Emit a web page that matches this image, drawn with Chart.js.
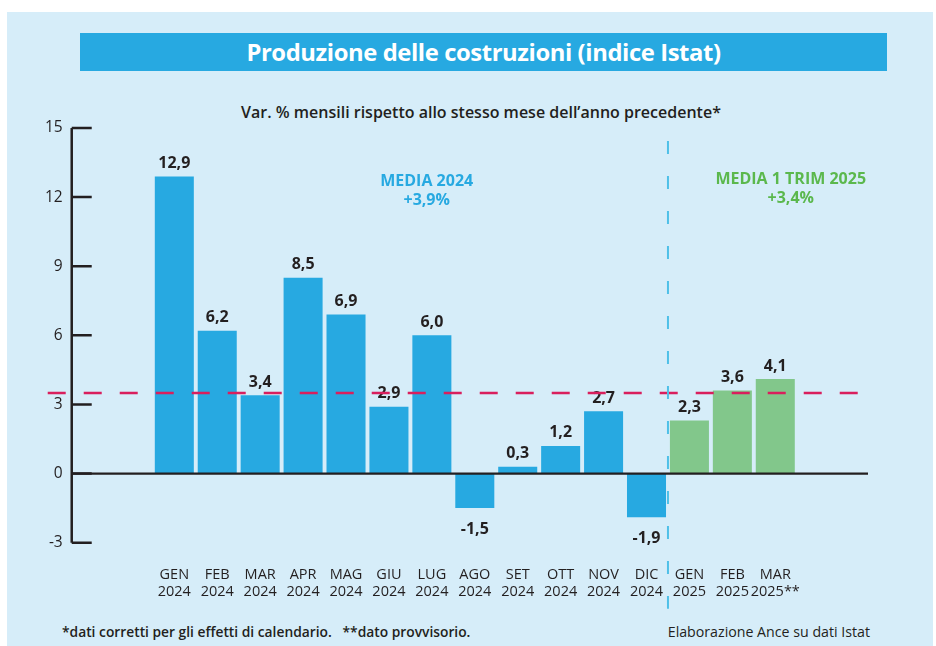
<!DOCTYPE html>
<html lang="it">
<head>
<meta charset="utf-8">
<title>Produzione delle costruzioni</title>
<script src="https://cdn.jsdelivr.net/npm/chart.js@4.4.1/dist/chart.umd.min.js"></script>
<style>
  html, body { margin: 0; padding: 0; background: #fff; }
  body { width: 936px; height: 646px; position: relative; overflow: hidden; font-family: "Open Sans", sans-serif; }
  .pannello { position: absolute; left: 7px; top: 12px; width: 926px; height: 634px; background: #d6edf9; }
  .banner { position: absolute; left: 80px; top: 33px; width: 807px; height: 38px; background: #27a9e1;
    color: #fff; font-weight: 700; font-size: 23.8px; line-height: 38px; text-align: center; letter-spacing: -0.4px; }
  .sottotitolo { position: absolute; left: 0; width: 962px; top: 101px; text-align: center;
    font-size: 16px; font-weight: 600; color: #231f20; }
  .nota { position: absolute; top: 622px; font-size: 13.8px; font-weight: 600; color: #231f20; white-space: pre; }
  .nota.sx { left: 62px; }
  .nota.dx { right: 66px; font-size: 14.2px; font-weight: 500; }
  #grafico-box { position: absolute; left: 0; top: 0; width: 936px; height: 646px; }
</style>
</head>
<body>
<div class="pannello"></div>
<div class="banner">Produzione delle costruzioni (indice Istat)</div>
<div class="sottotitolo">Var. % mensili rispetto allo stesso mese dell’anno precedente*</div>
<div class="nota sx">*dati corretti per gli effetti di calendario.   **dato provvisorio.</div>
<div class="nota dx">Elaborazione Ance su dati Istat</div>
<div id="grafico-box"><canvas id="grafico"></canvas></div>

<script>
// Dati
const mesi = ["GEN", "FEB", "MAR", "APR", "MAG", "GIU", "LUG", "AGO", "SET", "OTT", "NOV", "DIC", "GEN", "FEB", "MAR"];
const anni = ["2024", "2024", "2024", "2024", "2024", "2024", "2024", "2024", "2024", "2024", "2024", "2024", "2025", "2025", "2025**"];
const valori2024 = [12.9, 6.2, 3.4, 8.5, 6.9, 2.9, 6.0, -1.5, 0.3, 1.2, 2.7, -1.9];
const valori2025 = [2.3, 3.6, 4.1];
const tickY = [-3, 0, 3, 6, 9, 12, 15];
const lineaRiferimento = 3.5;
const media2024 = ["MEDIA 2024", "+3,9%"];
const media2025 = ["MEDIA 1 TRIM 2025", "+3,4%"];

document.addEventListener("DOMContentLoaded", () => {
  Chart.defaults.font.family = "'Open Sans', sans-serif";
  Chart.defaults.color = "#231f20";

  const punti2024 = valori2024.map((v, i) => ({ x: i, y: v }));
  const punti2025 = valori2025.map((v, i) => ({ x: valori2024.length + i, y: v }));
  const formatta = (v) => v.toFixed(1).replace(".", ",");

  // Assi, linee tratteggiate, etichette e medie
  const decorazioni = {
    id: "decorazioni",
    afterDatasetsDraw(chart) {
      const { ctx, chartArea, scales } = chart;
      const x = scales.x, y = scales.y;
      ctx.save();

      // etichette dei valori
      ctx.font = "700 16px 'Open Sans'";
      ctx.fillStyle = "#231f20";
      ctx.textAlign = "center";
      chart.data.datasets.forEach((ds, di) => {
        chart.getDatasetMeta(di).data.forEach((bar, i) => {
          const v = ds.data[i].y;
          if (v >= 0) {
            ctx.textBaseline = "bottom";
            ctx.fillText(formatta(v), bar.x, bar.y - 5);
          } else {
            ctx.textBaseline = "top";
            ctx.fillText(formatta(v), bar.x, bar.y + 13);
          }
        });
      });

      // asse y con tacche verso l'interno
      ctx.strokeStyle = "#231f20";
      ctx.lineWidth = 2.5;
      ctx.beginPath();
      ctx.moveTo(chartArea.left, y.getPixelForValue(tickY[tickY.length - 1]));
      ctx.lineTo(chartArea.left, y.getPixelForValue(tickY[0]));
      tickY.forEach((t) => {
        const py = y.getPixelForValue(t);
        ctx.moveTo(chartArea.left, py);
        ctx.lineTo(chartArea.left + 20, py);
      });
      ctx.stroke();

      // linea dello zero
      ctx.lineWidth = 2.3;
      ctx.beginPath();
      ctx.moveTo(chartArea.left, y.getPixelForValue(0));
      ctx.lineTo(chartArea.right, y.getPixelForValue(0));
      ctx.stroke();

      // linea di riferimento rossa
      const pr = y.getPixelForValue(lineaRiferimento);
      ctx.strokeStyle = "#d91f5d";
      ctx.lineWidth = 2.5;
      ctx.setLineDash([18, 18]);
      ctx.lineDashOffset = -8;
      ctx.beginPath();
      ctx.moveTo(chartArea.left - 32, pr);
      ctx.lineTo(chartArea.right + 4, pr);
      ctx.stroke();

      // separatore 2024 / 2025
      const xs = x.getPixelForValue(valori2024.length - 0.5);
      ctx.strokeStyle = "#4fc0e8";
      ctx.lineWidth = 2;
      ctx.setLineDash([13, 22]);
      ctx.lineDashOffset = 0;
      ctx.beginPath();
      ctx.moveTo(xs, chartArea.top + 13);
      ctx.lineTo(xs, chartArea.bottom + 66);
      ctx.stroke();
      ctx.setLineDash([]);

      // medie
      ctx.font = "700 16px 'Open Sans'";
      ctx.textBaseline = "middle";
      ctx.fillStyle = "#27a9e1";
      const m1x = x.getPixelForValue(5.88), m1y = y.getPixelForValue(12.7);
      ctx.fillText(media2024[0], m1x, m1y);
      ctx.fillText(media2024[1], m1x, m1y + 19);
      ctx.fillStyle = "#5bb84d";
      const m2x = x.getPixelForValue(14.36), m2y = y.getPixelForValue(12.75);
      ctx.fillText(media2025[0], m2x, m2y);
      ctx.fillText(media2025[1], m2x, m2y + 19);

      ctx.restore();
    },
  };

  new Chart(document.getElementById("grafico"), {
    type: "bar",
    data: {
      datasets: [
        { label: "2024", data: punti2024, backgroundColor: "#27a9e1" },
        { label: "2025", data: punti2025, backgroundColor: "#82c78b" },
      ],
    },
    options: {
      responsive: true,
      maintainAspectRatio: false,
      animation: false,
      grouped: false,
      barPercentage: 1,
      categoryPercentage: 0.909,
      layout: { padding: { top: 128, left: 36, right: 68, bottom: 22 } },
      plugins: {
        legend: { display: false },
        tooltip: { enabled: false },
      },
      scales: {
        x: {
          type: "linear",
          offset: false,
          min: -2.39,
          max: 16.16,
          grid: { display: false, drawTicks: false, offset: false },
          border: { display: false },
          afterBuildTicks: (scale) => {
            scale.ticks = mesi.map((_, i) => ({ value: i }));
          },
          ticks: {
            autoSkip: false,
            maxRotation: 0,
            padding: 24,
            color: "#231f20",
            font: { size: 14.5, lineHeight: 1.15 },
            callback: (value) => [mesi[value], anni[value]],
          },
        },
        y: {
          min: -3,
          max: 15,
          grid: { display: false, drawTicks: false },
          border: { display: false },
          afterBuildTicks: (scale) => {
            scale.ticks = tickY.map((v) => ({ value: v }));
          },
          ticks: {
            padding: 9,
            color: "#231f20",
            font: { size: 15.5 },
          },
        },
      },
    },
    plugins: [decorazioni],
  });
});
</script>
</body>
</html>
